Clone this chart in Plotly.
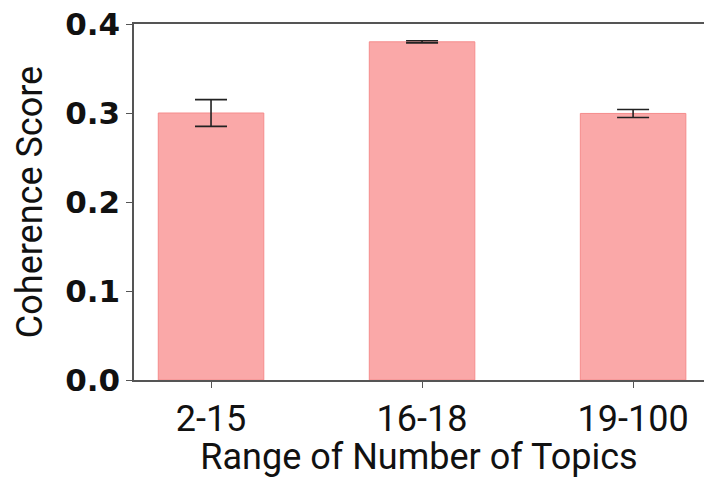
import plotly.graph_objects as go

categories = ["2-15", "16-18", "19-100"]
scores = [0.300, 0.380, 0.2995]
errors = [0.015, 0.0012, 0.0045]
y_ticks = [0.0, 0.1, 0.2, 0.3, 0.4]
y_tick_labels = ["0.0", "0.1", "0.2", "0.3", "0.4"]

fig = go.Figure()
fig.add_trace(go.Bar(
    x=list(range(len(categories))),
    y=scores,
    width=0.5,
    marker=dict(color="rgb(250,168,168)", line=dict(color="rgb(245,140,140)", width=1)),
    error_y=dict(type="data", array=errors, visible=True, color="#222222", thickness=1.6, width=16),
))

fig.update_layout(
    width=704, height=478,
    margin=dict(l=134, r=0, t=24, b=98),
    plot_bgcolor="white", paper_bgcolor="white",
    showlegend=False,
    xaxis=dict(
        range=[-0.365, 2.336],
        tickmode="array", tickvals=list(range(len(categories))), ticktext=categories,
        showline=True, linecolor="#555555", linewidth=1.5, mirror=True,
        ticks="outside", ticklen=6, tickcolor="#555555", tickwidth=1.2,
        showgrid=False, zeroline=False,
        tickfont=dict(family="Roboto", size=36, color="#111111"),
        title=dict(text="Range of Number of Topics", font=dict(family="Roboto", size=36, color="#111111"), standoff=8),
    ),
    yaxis=dict(
        range=[0, 0.4],
        tickmode="array", tickvals=y_ticks, ticktext=y_tick_labels,
        showline=True, linecolor="#555555", linewidth=1.5, mirror=False,
        ticks="outside", ticklen=6, tickcolor="#555555", tickwidth=1.2,
        showgrid=False, zeroline=False,
        tickfont=dict(family="DejaVu Sans", size=31, color="#111111", weight="bold"),
        title=dict(text="Coherence Score", font=dict(family="Roboto", size=36, color="#111111"), standoff=12),
    ),
)

fig.write_html("out.html")
